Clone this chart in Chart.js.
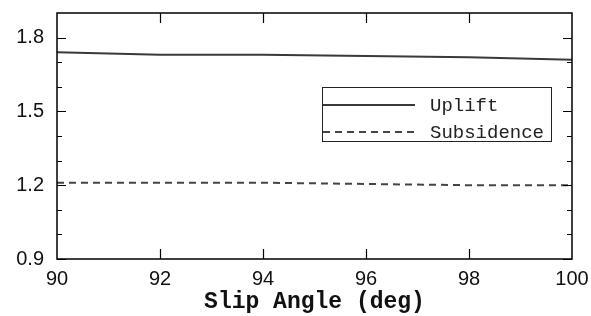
<!DOCTYPE html>
<html>
<head>
<meta charset="utf-8">
<script src="https://cdn.jsdelivr.net/npm/chart.js@4"></script>
<style>
  html, body { margin: 0; padding: 0; background: #fff; overflow: hidden; }
  #wrap { width: 591px; height: 316px; }
</style>
</head>
<body>
<div id="wrap"><canvas id="myChart" width="591" height="316"></canvas></div>
<script>
// slip angle vs. uplift / subsidence ratio

const slipAngles = [90, 92, 94, 96, 98, 100]
const uplift = [1.74, 1.73, 1.73, 1.725, 1.72, 1.71]
const subsidence = [1.21, 1.21, 1.21, 1.205, 1.20, 1.20]

const xTicks = [90, 92, 94, 96, 98, 100]
const yTicks = [0.9, 1.2, 1.5, 1.8]
const yMinorTicks = [1.0, 1.1, 1.3, 1.4, 1.6, 1.7]

const ctx = document.querySelector("#myChart")

// inward ticks, frame and the boxed legend inside the plot
const framePlugin = {
  id: 'frame',
  afterDatasetsDraw(chart) {
    const c = chart.ctx
    const a = chart.chartArea
    const xs = chart.scales.x
    const ys = chart.scales.y
    c.save()
    c.strokeStyle = '#000'
    c.lineWidth = 1.5
    c.strokeRect(a.left, a.top, a.right - a.left, a.bottom - a.top)

    c.lineWidth = 1.2
    c.beginPath()
    xTicks.slice(1, -1).forEach(v => {
      const px = Math.round(xs.getPixelForValue(v)) + 0.5
      c.moveTo(px, a.bottom); c.lineTo(px, a.bottom - 10)
      c.moveTo(px, a.top); c.lineTo(px, a.top + 10)
    })
    yTicks.forEach(v => {
      const py = Math.round(ys.getPixelForValue(v)) + 0.5
      c.moveTo(a.left, py); c.lineTo(a.left + 9, py)
      c.moveTo(a.right, py); c.lineTo(a.right - 9, py)
    })
    yMinorTicks.forEach(v => {
      const py = Math.round(ys.getPixelForValue(v)) + 0.5
      c.moveTo(a.left, py); c.lineTo(a.left + 5, py)
      c.moveTo(a.right, py); c.lineTo(a.right - 5, py)
    })
    c.stroke()

    // legend box
    const bx = 322, by = 87, bw = 229, bh = 54
    c.fillStyle = '#fff'
    c.fillRect(bx, by, bw, bh)
    c.lineWidth = 1
    c.strokeStyle = '#222'
    c.strokeRect(bx + 0.5, by + 0.5, bw, bh)
    c.font = '19px "Liberation Mono", monospace'
    c.textBaseline = 'middle'
    c.fillStyle = '#222'
    chart.data.datasets.forEach((ds, i) => {
      const ly = by + 18 + i * 27
      c.beginPath()
      c.strokeStyle = ds.borderColor
      c.lineWidth = ds.borderWidth
      c.setLineDash(ds.borderDash || [])
      c.moveTo(bx + 1, ly); c.lineTo(bx + 93, ly)
      c.stroke()
      c.setLineDash([])
      c.fillText(ds.label, bx + 108, ly + 1)
    })
    c.restore()
  }
}

const data = {
  datasets: [{
    label: 'Uplift',
    data: slipAngles.map((x, i) => ({x: x, y: uplift[i]})),
    borderColor: '#3a3a3a',
    borderWidth: 2,
    pointRadius: 0,
    tension: 0
  }, {
    label: 'Subsidence',
    data: slipAngles.map((x, i) => ({x: x, y: subsidence[i]})),
    borderColor: '#444',
    borderWidth: 2,
    borderDash: [7, 5],
    pointRadius: 0,
    tension: 0
  }]
}

const options = {
  responsive: false,
  animation: false,
  layout: { padding: { left: 0, top: 13, right: 19, bottom: 0 } },
  plugins: {
    legend: { display: false },
    tooltip: { enabled: false }
  },
  scales: {
    x: {
      type: 'linear',
      min: 90,
      max: 100,
      afterBuildTicks: s => { s.ticks = xTicks.map(v => ({value: v})) },
      afterFit: s => { s.height = 57; s.paddingLeft = 0; s.paddingRight = 0 },
      grid: { display: false, drawTicks: false },
      border: { display: false },
      ticks: {
        padding: 8,
        color: '#111',
        font: { family: '"Liberation Sans", Arial, sans-serif', size: 20 },
        maxRotation: 0,
        callback: v => String(v)
      },
      title: {
        display: true,
        text: 'Slip Angle (deg)',
        color: '#111',
        font: { family: '"Liberation Mono", monospace', size: 23, weight: 'bold' },
        padding: { top: 0, bottom: 0 }
      }
    },
    y: {
      min: 0.9,
      max: 1.9,
      afterBuildTicks: s => { s.ticks = yTicks.map(v => ({value: v})) },
      afterFit: s => { s.width = 57; s.paddingTop = 0; s.paddingBottom = 0 },
      grid: { display: false, drawTicks: false },
      border: { display: false },
      ticks: {
        padding: 13,
        color: '#111',
        font: { family: '"Liberation Sans", Arial, sans-serif', size: 20 },
        callback: v => v.toFixed(1)
      }
    }
  }
}

const config = {
  type: 'line',
  data: data,
  options: options,
  plugins: [framePlugin]
}

const chart = new Chart(ctx, config)
</script>
</body>
</html>
